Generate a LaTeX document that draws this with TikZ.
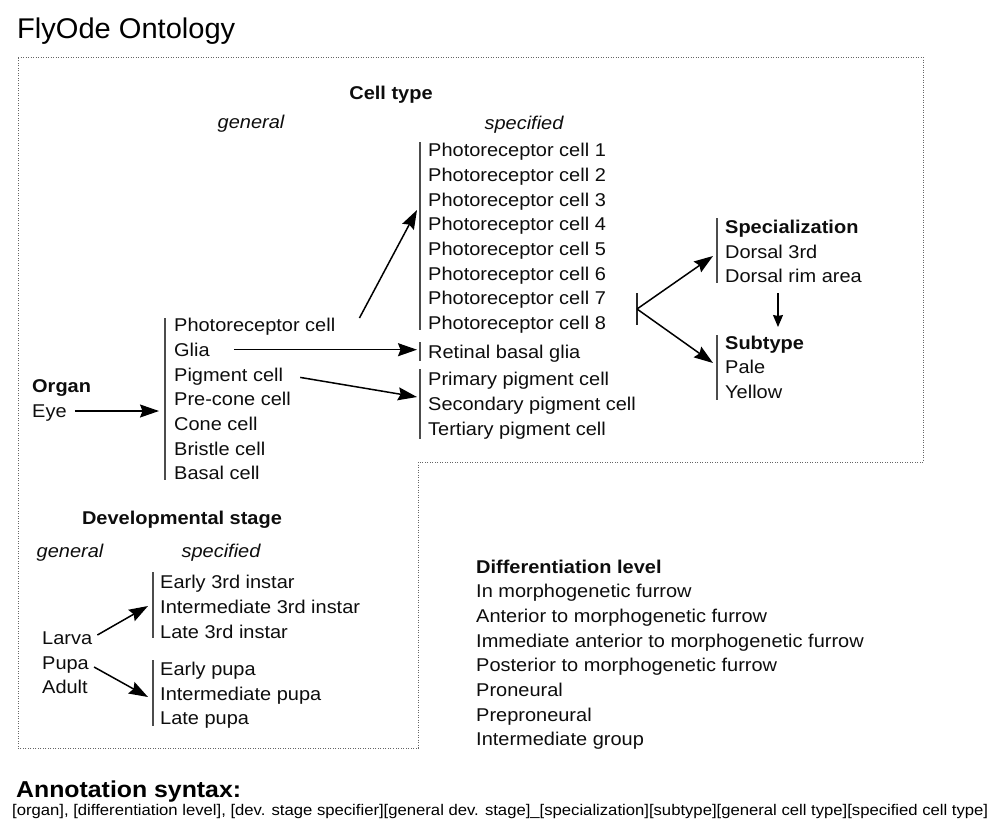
\documentclass[tikz,border=0pt]{standalone}
\usepackage{fontspec}
\setmainfont{Liberation Sans}[FakeStretch=1.08]
\newfontfamily\titrefont{Liberation Sans}[FakeStretch=1.02]
\usetikzlibrary{arrows.meta}
\begin{document}
\begin{tikzpicture}[x=1pt,y=-1pt]
		% Styles
		\tikzstyle{fleche}=[-{Stealth[length=19pt,width=13pt,inset=2.5pt]},line width=1.5pt,black]
		\tikzstyle{petitefleche}=[-{Stealth[length=12pt,width=10pt,inset=1pt]},line width=1.1pt,black]
		\tikzstyle{barre}=[line width=1.4pt,black!70]
		\tikzstyle{cadre}=[black!60,line width=1pt,dash pattern=on 1pt off 1.5pt]
		\tikzstyle{item}=[anchor=west,inner sep=0pt,text height=13.2pt,text depth=0pt,text=black!95,font=\fontsize{18.5}{21}\selectfont]
		\tikzstyle{entete}=[item,font=\fontsize{18.5}{21}\selectfont\bfseries]
		\tikzstyle{genre}=[item,anchor=center,font=\fontsize{18.5}{21}\selectfont\itshape]
		% Dimensions
		\def\Interligne{24.7}
		\def\ColOrgane{174}
		\def\ColSpec{428}
		\def\ColSous{725}
		\def\ColStade{160}
		\def\ColDiff{476}
		\useasboundingbox (0,0) rectangle (1000,835);
		% Cadre
		\draw[cadre] (18,57) -- (923,57) -- (923,462) -- (418,462) -- (418,748) -- (18,748) -- cycle;
		\node[anchor=west,inner sep=0pt,text height=20.5pt,text depth=0pt,font=\fontsize{28.5}{33}\titrefont] (titre) at (17,28) {FlyOde Ontology};
		% Type cellulaire
		\node[entete,anchor=center] (celltype) at (391,93) {Cell type};
		\node[genre] (gen) at (251,122) {general};
		\node[genre] (spec) at (524,123) {specified};
		%
		\node[item] (pc1) at (\ColSpec,150) {Photoreceptor cell 1};
		\node[item] (pc2) at (\ColSpec,{150+1*\Interligne}) {Photoreceptor cell 2};
		\node[item] (pc3) at (\ColSpec,{150+2*\Interligne}) {Photoreceptor cell 3};
		\node[item] (pc4) at (\ColSpec,{150+3*\Interligne}) {Photoreceptor cell 4};
		\node[item] (pc5) at (\ColSpec,{150+4*\Interligne}) {Photoreceptor cell 5};
		\node[item] (pc6) at (\ColSpec,{150+5*\Interligne}) {Photoreceptor cell 6};
		\node[item] (pc7) at (\ColSpec,{150+6*\Interligne}) {Photoreceptor cell 7};
		\node[item] (pc8) at (\ColSpec,{150+7*\Interligne}) {Photoreceptor cell 8};
		\node[item] (rbg) at (\ColSpec,351.5) {Retinal basal glia};
		\node[item] (ppc) at (\ColSpec,379) {Primary pigment cell};
		\node[item] (spc) at (\ColSpec,{379+1*\Interligne}) {Secondary pigment cell};
		\node[item] (tpc) at (\ColSpec,{379+2*\Interligne}) {Tertiary pigment cell};
		%
		\node[entete] (organ) at (32,386) {Organ};
		\node[item] (eye) at (32,411) {Eye};
		\node[item] (oPR) at (\ColOrgane,325) {Photoreceptor cell};
		\node[item] (oGlia) at (\ColOrgane,{325+1*\Interligne}) {Glia};
		\node[item] (oPig) at (\ColOrgane,{325+2*\Interligne}) {Pigment cell};
		\node[item] (oPrecone) at (\ColOrgane,{325+3*\Interligne}) {Pre-cone cell};
		\node[item] (oCone) at (\ColOrgane,{325+4*\Interligne}) {Cone cell};
		\node[item] (oBristle) at (\ColOrgane,{325+5*\Interligne}) {Bristle cell};
		\node[item] (oBasal) at (\ColOrgane,{325+6*\Interligne}) {Basal cell};
		% Specialisation et sous-type
		\node[entete] (spectitle) at (\ColSous,227) {Specialization};
		\node[item] (dors) at (\ColSous,252) {Dorsal 3rd};
		\node[item] (dri) at (\ColSous,276) {Dorsal rim area};
		\node[entete] (subtitle) at (\ColSous,343) {Subtype};
		\node[item] (pale) at (\ColSous,367) {Pale};
		\node[item] (yellow) at (\ColSous,392) {Yellow};
		% Stade de developpement
		\node[entete,anchor=center] (devtitle) at (182,518) {Developmental stage};
		\node[genre] (dgen) at (70,551) {general};
		\node[genre] (dspec) at (221,551) {specified};
		\node[item] (e3) at (\ColStade,582) {Early 3rd instar};
		\node[item] (i3) at (\ColStade,607) {Intermediate 3rd instar};
		\node[item] (l3) at (\ColStade,632) {Late 3rd instar};
		\node[item] (ep) at (\ColStade,669) {Early pupa};
		\node[item] (ip) at (\ColStade,694) {Intermediate pupa};
		\node[item] (lp) at (\ColStade,718) {Late pupa};
		\node[item] (larva) at (42,638) {Larva};
		\node[item] (pupa) at (42,663) {Pupa};
		\node[item] (adult) at (42,687) {Adult};
		% Niveau de differenciation
		\node[entete] (difftitle) at (\ColDiff,567) {Differentiation level};
		\node[item] (d1) at (\ColDiff,{591+0*\Interligne}) {In morphogenetic furrow};
		\node[item] (d2) at (\ColDiff,{591+1*\Interligne}) {Anterior to morphogenetic furrow};
		\node[item] (d3) at (\ColDiff,{591+2*\Interligne}) {Immediate anterior to morphogenetic furrow};
		\node[item] (d4) at (\ColDiff,{591+3*\Interligne}) {Posterior to morphogenetic furrow};
		\node[item] (d5) at (\ColDiff,{591+4*\Interligne}) {Proneural};
		\node[item] (d6) at (\ColDiff,{591+5*\Interligne}) {Preproneural};
		\node[item] (d7) at (\ColDiff,{591+6*\Interligne}) {Intermediate group};
		% Syntaxe
		\node[anchor=west,inner sep=0pt,text height=16.4pt,text depth=0pt,font=\fontsize{23}{26}\selectfont\bfseries] (annot) at (16,789) {Annotation syntax:};
		\node[anchor=base west,inner sep=0pt] (syntax) at (12,815) {\resizebox{976pt}{!}{\fontsize{12.5}{14}\selectfont [organ], [differentiation level], [dev. stage specifier][general dev. stage]\_[specialization][subtype][general cell type][specified cell type]}};
		% Barres
		\coordinate (bSpecH) at (420,142);  \coordinate (bSpecB) at (420,330);
		\coordinate (bRbgH) at (420,342);   \coordinate (bRbgB) at (420,361);
		\coordinate (bPigH) at (420,369);   \coordinate (bPigB) at (420,439);
		\coordinate (bOrgH) at (165,318);   \coordinate (bOrgB) at (165,480);
		\coordinate (bSousH) at (717,218);  \coordinate (bSousB) at (717,283);
		\coordinate (bSubH) at (717,335);   \coordinate (bSubB) at (717,400);
		\coordinate (bFourH) at (637,293);  \coordinate (bFourB) at (637,325);
		\coordinate (bLarH) at (153,572);   \coordinate (bLarB) at (153,638);
		\coordinate (bPupH) at (153,660);   \coordinate (bPupB) at (153,726);
		\foreach \h/\b in {bSpecH/bSpecB,bRbgH/bRbgB,bPigH/bPigB,bOrgH/bOrgB,bSousH/bSousB,bSubH/bSubB,bLarH/bLarB,bPupH/bPupB}
			\draw[barre] (\h) -- (\b);
		\draw[line width=1.1pt,black!85] (bFourH) -- (bFourB);
		% Fleches
		\coordinate (fourche) at (637,309);
		\coordinate (prIn) at (417,210);
		\coordinate (pigIn) at (417,397);
		\coordinate (specIn) at (713,256);
		\coordinate (subIn) at (713,363);
		\coordinate (driOut) at (778,293);
		\coordinate (subTop) at (778,327);
		\coordinate (larIn) at (148,606);
		\coordinate (pupIn) at (148,697);
		\draw[fleche,shorten <=8pt,shorten >=6pt] (eye.east) -- (eye.east -| bOrgH);
		\draw[fleche] ([shift={(24pt,7pt)}]oPR.east) -- (prIn);
		\draw[fleche,shorten <=24pt,shorten >=3pt] (oGlia.east) -- (oGlia.east -| bRbgH);
		\draw[fleche] ([shift={(17pt,-3pt)}]oPig.east) -- (pigIn);
		\draw[fleche] (fourche) -- (specIn);
		\draw[fleche] (fourche) -- (subIn);
		\draw[petitefleche] (driOut) -- (subTop);
		\draw[fleche] ([shift={(5pt,3pt)}]larva.east) -- (larIn);
		\draw[fleche] ([shift={(5pt,-4pt)}]pupa.east) -- (pupIn);
\end{tikzpicture}
\end{document}
